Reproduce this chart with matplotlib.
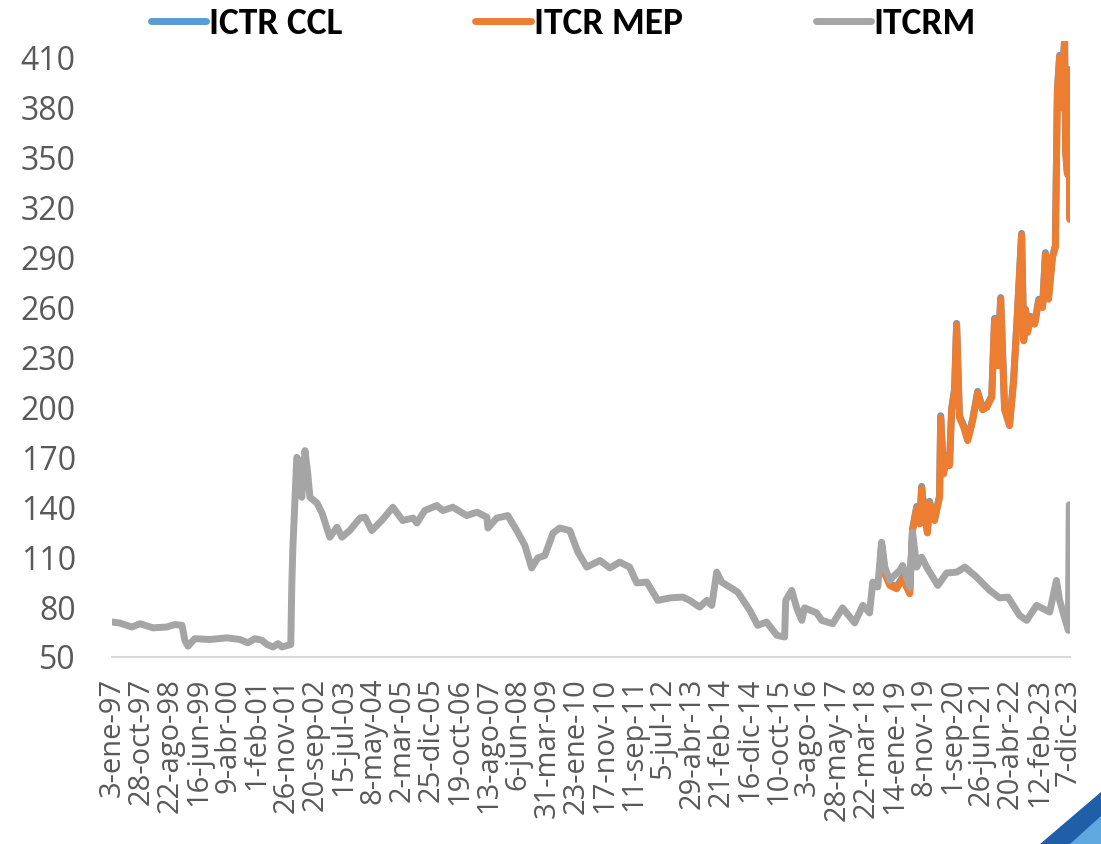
import matplotlib
matplotlib.use("Agg")
import matplotlib.pyplot as plt
import pandas as pd
from matplotlib.lines import Line2D
from matplotlib.patches import Polygon

# ITCRM (gray)
itcrm_dates = [
    "1997-01-03", "1997-03-25", "1997-07-26", "1997-10-19", "1998-02-28", "1998-07-19",
    "1998-10-12", "1998-12-24", "1999-01-22", "1999-02-24", "1999-05-04", "1999-10-08",
    "2000-03-28", "2000-08-10", "2000-10-30", "2001-01-12", "2001-03-25", "2001-05-16",
    "2001-07-17", "2001-09-06", "2001-10-16", "2001-12-17", "2002-01-15", "2002-01-26",
    "2002-02-06", "2002-03-18", "2002-04-20", "2002-05-08", "2002-06-10", "2002-07-09",
    "2002-07-31", "2002-10-12", "2002-12-02", "2003-02-21", "2003-05-05", "2003-06-25",
    "2003-09-13", "2003-12-28", "2004-02-17", "2004-04-27", "2004-08-07", "2004-11-29",
    "2005-03-11", "2005-06-25", "2005-08-04", "2005-10-23", "2006-02-24", "2006-04-27",
    "2006-08-08", "2006-12-28", "2007-04-13", "2007-07-24", "2007-08-04", "2007-11-03",
    "2008-02-24", "2008-05-26", "2008-08-18", "2008-10-26", "2008-12-28", "2009-03-11",
    "2009-06-03", "2009-08-11", "2009-11-22", "2010-02-14", "2010-05-16", "2010-09-28",
    "2011-01-08", "2011-04-20", "2011-07-31", "2011-10-12", "2012-01-23", "2012-05-16",
    "2012-09-17", "2013-01-26", "2013-04-09", "2013-06-21", "2013-07-20", "2013-10-01",
    "2013-11-21", "2014-01-11", "2014-03-03", "2014-08-15", "2014-12-17", "2015-03-08",
    "2015-06-07", "2015-09-21", "2015-12-10", "2015-12-21", "2016-02-21", "2016-04-12",
    "2016-06-03", "2016-07-02", "2016-11-03", "2016-12-25", "2017-04-17", "2017-07-27",
    "2017-11-29", "2018-02-21", "2018-05-01", "2018-06-03", "2018-07-24", "2018-09-02",
    "2018-10-05", "2018-11-25", "2018-12-24", "2019-03-08", "2019-04-06", "2019-06-18",
    "2019-07-17", "2019-08-29", "2019-10-19", "2019-12-09", "2020-04-02", "2020-07-02",
    "2020-10-13", "2021-01-05", "2021-05-05", "2021-09-17", "2021-12-28", "2022-03-24",
    "2022-07-21", "2022-10-02", "2023-01-12", "2023-05-27", "2023-08-04", "2023-09-06",
    "2023-10-20", "2023-12-05", "2023-12-14",
]
itcrm_values = [
    71, 70.4, 68, 70, 67.5, 68,
    69.5, 69, 60, 56.5, 61, 60.5,
    61.5, 60.5, 58.5, 61, 60, 57.5,
    56, 58, 56, 57, 57.5, 94,
    116, 170, 167, 146, 174, 160,
    146, 142.5, 136.5, 122, 128, 122,
    126, 133.5, 134, 126, 132, 140,
    132, 133.5, 130.5, 138, 141, 138,
    140, 135, 137, 134, 127.5, 133.5,
    135, 126, 117, 103.5, 109.5, 111,
    124.5, 127.5, 126, 113, 104, 108,
    103.5, 107, 104, 94.5, 95, 84,
    85.5, 86, 84, 81, 80, 84,
    81, 101, 95, 89, 78, 69,
    71, 63, 62, 84, 90, 79.5,
    72, 79.5, 76.5, 72, 70, 79.5,
    70.5, 81, 76.5, 95, 92, 119,
    104, 96, 98, 102, 105, 92,
    125, 104, 110, 104, 93, 100.5,
    101, 104, 98, 90, 85.5, 86,
    75, 72, 81, 77, 96, 84,
    75, 66, 141.5,
]

# ITCR MEP (orange) and ICTR CCL (blue, mostly hidden below MEP)
mep_dates = [
    "2018-08-13", "2018-09-02", "2018-10-05", "2018-11-25", "2019-02-03", "2019-04-06",
    "2019-06-18", "2019-07-17", "2019-08-29", "2019-09-28", "2019-10-19", "2019-11-18",
    "2019-12-17", "2020-01-08", "2020-02-28", "2020-04-20", "2020-05-01", "2020-05-31",
    "2020-07-02", "2020-07-31", "2020-08-22", "2020-09-21", "2020-10-12", "2020-11-10",
    "2020-12-24", "2021-02-03", "2021-03-26", "2021-05-16", "2021-07-06", "2021-08-18",
    "2021-10-08", "2021-11-06", "2021-12-08", "2022-01-08", "2022-02-17", "2022-04-09",
    "2022-05-20", "2022-07-01", "2022-08-11", "2022-09-02", "2022-09-21", "2022-10-12",
    "2022-11-10", "2022-12-24", "2023-02-03", "2023-03-15", "2023-04-13", "2023-05-15",
    "2023-06-24", "2023-07-24", "2023-08-14", "2023-09-06", "2023-09-25", "2023-10-27",
    "2023-11-06", "2023-11-25", "2023-12-10", "2023-12-18",
]
mep_values = [
    100, 117, 100, 93, 91, 97,
    88, 126, 139.5, 130, 151.5, 134,
    124.5, 142.5, 132, 146, 194, 160,
    170, 165, 198.5, 210, 249.5, 194,
    188, 180, 192, 208.6, 198.5, 200,
    206, 252.5, 225, 265, 198.5, 189,
    215, 258, 303.6, 240, 258, 245,
    253.7, 250, 264, 260, 292, 265,
    290, 296, 390, 410.6, 380, 421,
    353.5, 340, 402, 313,
]
ccl_values = [
    101, 118, 101, 94, 92, 98,
    89, 127, 140.5, 131, 152.5, 135,
    125.5, 143.5, 133, 147, 195, 161,
    171, 166, 199.5, 211, 250.5, 195,
    189, 181, 193, 209.6, 199.5, 201,
    207, 253.5, 226, 266, 199.5, 190,
    216, 259, 304.6, 241, 259, 246,
    254.7, 251, 265, 261, 293, 266,
    291, 297, 391, 411.6, 381, 422,
    354.5, 341, 403, 314,
]

tick_labels = [
    "3-ene-97", "28-oct-97", "22-ago-98", "16-jun-99", "9-abr-00", "1-feb-01",
    "26-nov-01", "20-sep-02", "15-jul-03", "8-may-04", "2-mar-05", "25-dic-05",
    "19-oct-06", "13-ago-07", "6-jun-08", "31-mar-09", "23-ene-10", "17-nov-10",
    "11-sep-11", "5-jul-12", "29-abr-13", "21-feb-14", "16-dic-14", "10-oct-15",
    "3-ago-16", "28-may-17", "22-mar-18", "14-ene-19", "8-nov-19", "1-sep-20",
    "26-jun-21", "20-abr-22", "12-feb-23", "7-dic-23",
]
# labels are 298 days apart
tick_dates = pd.date_range("1997-01-03", periods=len(tick_labels), freq="298D")

blue = "#5B9BD5"
orange = "#ED7D31"
gray = "#A5A5A5"
lw = 5

fig = plt.figure(figsize=(11.01, 8.44), dpi=100)
ax = fig.add_axes([0.1017, 0.2216, 0.8700, 0.7294])

ax.plot(pd.to_datetime(mep_dates), ccl_values, color=blue, lw=lw,
        solid_capstyle="round", solid_joinstyle="round")
ax.plot(pd.to_datetime(mep_dates), mep_values, color=orange, lw=lw,
        solid_capstyle="round", solid_joinstyle="round")
ax.plot(pd.to_datetime(itcrm_dates), itcrm_values, color=gray, lw=lw,
        solid_capstyle="round", solid_joinstyle="round")

ax.set_xlim(pd.Timestamp("1997-01-03"), pd.Timestamp("2023-12-20"))
ax.set_ylim(50, 420)
ax.set_yticks(range(50, 411, 30))
ax.set_xticks(tick_dates)
ax.set_xticklabels(tick_labels, rotation=90)

for side in ["top", "right", "left"]:
    ax.spines[side].set_visible(False)
ax.spines["bottom"].set_color("#D9D9D9")
ax.spines["bottom"].set_linewidth(1.5)
ax.tick_params(axis="both", length=0, colors="#595959")
ax.tick_params(axis="y", pad=26)
ax.tick_params(axis="x", pad=15)
for lab in ax.get_yticklabels():
    lab.set_fontfamily("Open Sans")
    lab.set_fontsize(23)
for lab in ax.get_xticklabels():
    lab.set_fontfamily("Open Sans")
    lab.set_fontsize(21)

handles = [Line2D([], [], color=c, lw=lw, solid_capstyle="round") for c in (blue, orange, gray)]
fig.legend(handles, ["ICTR CCL", "ITCR MEP", "ITCRM"], loc="center left",
           bbox_to_anchor=(0.137, 1 - 24 / 844), ncol=3, frameon=False,
           prop={"family": ["Carlito", "DejaVu Sans"], "weight": "bold", "size": 27},
           handlelength=1.47, handletextpad=0.08, columnspacing=3.55,
           borderpad=0, borderaxespad=0)

# blue corner decoration in the bottom right of the screenshot
fig.patches.append(Polygon([[1040 / 1101, 0], [1101 / 1101, 0], [1101 / 1101, 52 / 844]],
                           closed=True, transform=fig.transFigure, color="#1F5FA8", zorder=0))
fig.patches.append(Polygon([[1070 / 1101, 0], [1101 / 1101, 0], [1101 / 1101, 28 / 844]],
                           closed=True, transform=fig.transFigure, color="#5FA8E0", zorder=1))

fig.savefig("out.png", dpi=100)
